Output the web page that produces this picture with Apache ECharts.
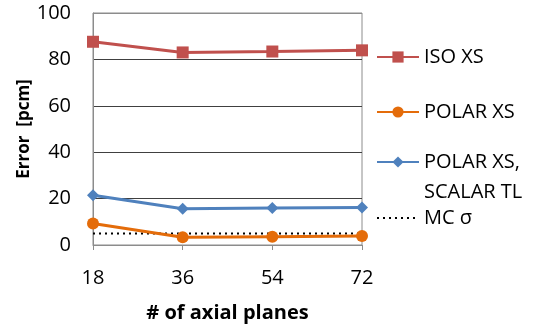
<!DOCTYPE html>
<html><head><meta charset="utf-8">
<script src="https://cdn.jsdelivr.net/npm/echarts@6/dist/echarts.min.js"></script>
<style>html,body{margin:0;padding:0;background:#fff}#c{width:533px;height:326px}</style>
</head><body><div id="c"></div>
<script>
const categories = ['18', '36', '54', '72'];
const isoXS = [87.6, 83.0, 83.4, 83.9];
const polarXS = [9.3, 3.3, 3.6, 3.9];
const polarScalarTL = [21.4, 15.6, 15.9, 16.2];
const mcSigma = [5, 5, 5, 5];
const yTicks = { min: 0, max: 100, interval: 20 };

const FONT = "'Open Sans', sans-serif";
const chart = echarts.init(document.getElementById('c'));
const legendText = { fontFamily: FONT, fontSize: 20, color: '#000' };
function legendAt(top, name, extra) {
  return Object.assign({
    left: 376, top: top, orient: 'vertical', itemWidth: 42, itemHeight: 14,
    itemGap: 0, padding: 0, data: [name], textStyle: legendText
  }, extra || {});
}
chart.setOption({
  animation: false,
  grid: { left: 93, right: 171, top: 13, bottom: 81, outerBoundsMode: 'none', containLabel: false,
          show: true, borderColor: '#8c8c8c', borderWidth: 1 },
  legend: [
    legendAt(47, 'ISO XS'),
    legendAt(102, 'POLAR XS'),
    legendAt(117, 'POLAR XS, SCALAR TL', {
      formatter: () => '\u00a0\nPOLAR XS,\nSCALAR TL',
      textStyle: Object.assign({}, legendText, { lineHeight: 30 })
    }),
    legendAt(208, 'MC σ', { itemStyle: { opacity: 0 } })
  ],
  xAxis: {
    type: 'category', data: categories, boundaryGap: false,
    name: '# of axial planes', nameLocation: 'middle', nameGap: 58,
    nameTextStyle: { fontFamily: FONT, fontSize: 20, fontWeight: 'bold', color: '#000' },
    axisLine: { lineStyle: { color: '#8c8c8c', width: 1 } },
    axisTick: { show: true, alignWithLabel: true, length: 5, lineStyle: { color: '#8c8c8c' } },
    axisLabel: { fontFamily: FONT, fontSize: 20, color: '#000', margin: 23 },
    splitLine: { show: false }
  },
  yAxis: {
    type: 'value', min: yTicks.min, max: yTicks.max, interval: yTicks.interval,
    name: 'Error  [pcm]', nameLocation: 'middle', nameGap: 60, nameRotate: 90, nameMoveOverlap: false,
    nameTextStyle: { fontFamily: FONT, fontSize: 17, fontWeight: 'bold', color: '#000' },
    axisLine: { show: true, lineStyle: { color: '#8c8c8c', width: 1 } },
    axisTick: { show: false },
    axisLabel: { fontFamily: FONT, fontSize: 20, color: '#000', margin: 22 },
    splitLine: { show: true, lineStyle: { color: ['#8c8c8c', '#404040', '#404040', '#404040', '#404040', '#8c8c8c'], width: 1 } }
  },
  series: [
    { name: 'ISO XS', type: 'line', data: isoXS, symbol: 'rect', symbolSize: 12,
      lineStyle: { color: '#C0504D', width: 3 }, itemStyle: { color: '#C0504D' } },
    { name: 'POLAR XS', type: 'line', data: polarXS, symbol: 'circle', symbolSize: 12,
      lineStyle: { color: '#E46C0A', width: 3 }, itemStyle: { color: '#E46C0A' } },
    { name: 'POLAR XS, SCALAR TL', type: 'line', data: polarScalarTL, symbol: 'diamond', symbolSize: 12,
      lineStyle: { color: '#4F81BD', width: 3 }, itemStyle: { color: '#4F81BD' } },
    { name: 'MC σ', type: 'line', data: mcSigma, symbol: 'none', z: 1,
      lineStyle: { color: '#000', width: 2, type: [2, 4] }, itemStyle: { color: '#000' } }
  ]
});
</script></body></html>
